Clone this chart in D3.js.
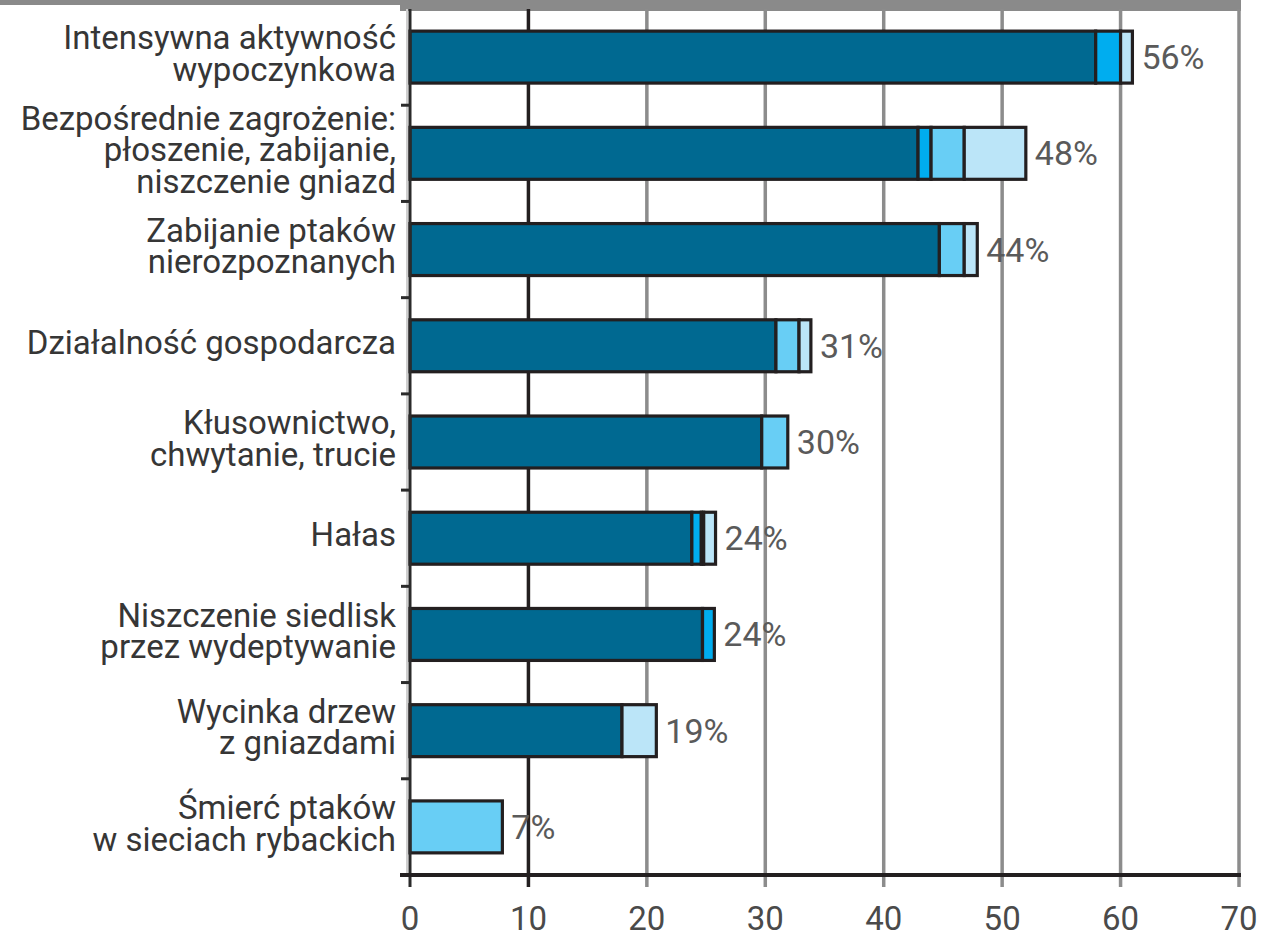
<!DOCTYPE html>
<html>
<head>
<meta charset="utf-8">
<script src="https://cdn.jsdelivr.net/npm/d3@7"></script>
<style>
  html, body { margin: 0; padding: 0; background: #fff; }
  svg { display: block; font-family: Roboto, "Noto Sans", sans-serif; }
</style>
</head>
<body>
<svg id="chart" width="1265" height="938"></svg>
<script>
// categories, one entry per bar, lines split with \n
const categories = [
  'Intensywna aktywność\nwypoczynkowa',
  'Bezpośrednie zagrożenie:\npłoszenie, zabijanie,\nniszczenie gniazd',
  'Zabijanie ptaków\nnierozpoznanych',
  'Działalność gospodarcza',
  'Kłusownictwo,\nchwytanie, trucie',
  'Hałas',
  'Niszczenie siedlisk\nprzez wydeptywanie',
  'Wycinka drzew\nz gniazdami',
  'Śmierć ptaków\nw sieciach rybackich',
];

// stacked segments
const darkVals   = [57.9, 42.9, 44.7, 30.9, 29.7, 23.8, 24.7, 17.9, 0];
const brightVals = [2.1, 1.1, 0, 0, 0, 0.8, 1.0, 0, 0];
const midVals    = [0, 2.8, 2.1, 1.95, 2.2, 0.2, 0, 0, 7.8];
const paleVals   = [1.0, 5.2, 1.1, 1.0, 0, 1.0, 0, 2.9, 0];

const percentLabels = ['56%', '48%', '44%', '31%', '30%', '24%', '24%', '19%', '7%'];
const xTicks = [0, 10, 20, 30, 40, 50, 60, 70];

const keys = ['dark', 'bright', 'mid', 'pale'];
const colors = {
  dark: '#006991',
  bright: '#00adef',
  mid: '#68cef5',
  pale: '#bbe5f8',
};

const rows = categories.map((c, i) => ({
  cat: c,
  dark: darkVals[i],
  bright: brightVals[i],
  mid: midVals[i],
  pale: paleVals[i],
}));

const svg = d3.select('#chart');

const x = d3.scaleLinear().domain([0, 70]).range([410, 1239]);
const y = d3.scaleBand()
  .domain(categories)
  .range([9, 875])
  .paddingInner(0.46)
  .paddingOuter(0.23);

// top frame band
svg.append('rect')
  .attr('x', 0).attr('y', 0)
  .attr('width', x(0) - 10).attr('height', 5)
  .attr('fill', '#8a8a8a');
svg.append('rect')
  .attr('x', x(0) - 10).attr('y', 0)
  .attr('width', x(70) - x(0) + 12).attr('height', 11)
  .attr('fill', '#8a8a8a');

// vertical grid lines
svg.append('g')
  .selectAll('line')
  .data(xTicks.filter((t) => t > 0))
  .join('line')
  .attr('x1', (d) => x(d))
  .attr('x2', (d) => x(d))
  .attr('y1', 9)
  .attr('y2', 887)
  .attr('stroke', (d) => (d === 10 ? '#231f20' : '#8c8c8c'))
  .attr('stroke-width', 3.5);

// bars
const stacked = d3.stack().keys(keys)(rows);

svg.append('g')
  .selectAll('g')
  .data(stacked)
  .join('g')
  .attr('fill', (s) => colors[s.key])
  .selectAll('rect')
  .data((s) => s.filter((d) => d[1] - d[0] > 0))
  .join('rect')
  .attr('x', (d) => x(d[0]))
  .attr('y', (d) => y(d.data.cat))
  .attr('width', (d) => x(d[1]) - x(d[0]))
  .attr('height', y.bandwidth())
  .attr('stroke', '#231f20')
  .attr('stroke-width', 3.2);

// y axis line and ticks at band boundaries
svg.append('line')
  .attr('x1', x(0) - 3).attr('x2', x(0) - 3)
  .attr('y1', 9).attr('y2', 875)
  .attr('stroke', '#cfcfcf')
  .attr('stroke-width', 2);

svg.append('line')
  .attr('x1', x(0)).attr('x2', x(0))
  .attr('y1', 9).attr('y2', 887)
  .attr('stroke', '#2b2b2b')
  .attr('stroke-width', 3);

svg.append('g')
  .selectAll('line')
  .data(categories)
  .join('line')
  .attr('x1', x(0) - 9)
  .attr('x2', x(0))
  .attr('y1', (d) => y(d) + y.bandwidth() + y.step() * y.paddingInner() / 2)
  .attr('y2', (d) => y(d) + y.bandwidth() + y.step() * y.paddingInner() / 2)
  .attr('stroke', '#2b2b2b')
  .attr('stroke-width', 3);

// x axis
svg.append('line')
  .attr('x1', x(0) - 10).attr('x2', x(70) + 2)
  .attr('y1', 875).attr('y2', 875)
  .attr('stroke', '#231f20')
  .attr('stroke-width', 4);

svg.append('g')
  .selectAll('text')
  .data(xTicks)
  .join('text')
  .attr('x', (d) => x(d))
  .attr('y', 930)
  .attr('text-anchor', 'middle')
  .attr('font-size', 33)
  .attr('fill', '#4a4a4a')
  .text((d) => d);

// category labels
const lineH = 31.5;
const labels = svg.append('g')
  .selectAll('text')
  .data(categories)
  .join('text')
  .attr('text-anchor', 'end')
  .attr('font-size', 33)
  .attr('fill', '#363636');

labels.each(function (d) {
  const lines = d.split('\n');
  const cy = y(d) + y.bandwidth() / 2;
  const first = cy + 8 - (lines.length - 1) * lineH / 2;
  d3.select(this)
    .selectAll('tspan')
    .data(lines)
    .join('tspan')
    .attr('x', 396)
    .attr('y', (_, i) => first + i * lineH)
    .text((l) => l);
});

// percentage labels
svg.append('g')
  .selectAll('text')
  .data(rows)
  .join('text')
  .attr('x', (d) => x(d.dark + d.bright + d.mid + d.pale) + 9)
  .attr('y', (d) => y(d.cat) + y.bandwidth() / 2 + 12)
  .attr('font-size', 34)
  .attr('fill', '#5a5a5a')
  .text((_, i) => percentLabels[i]);
</script>
</body>
</html>
